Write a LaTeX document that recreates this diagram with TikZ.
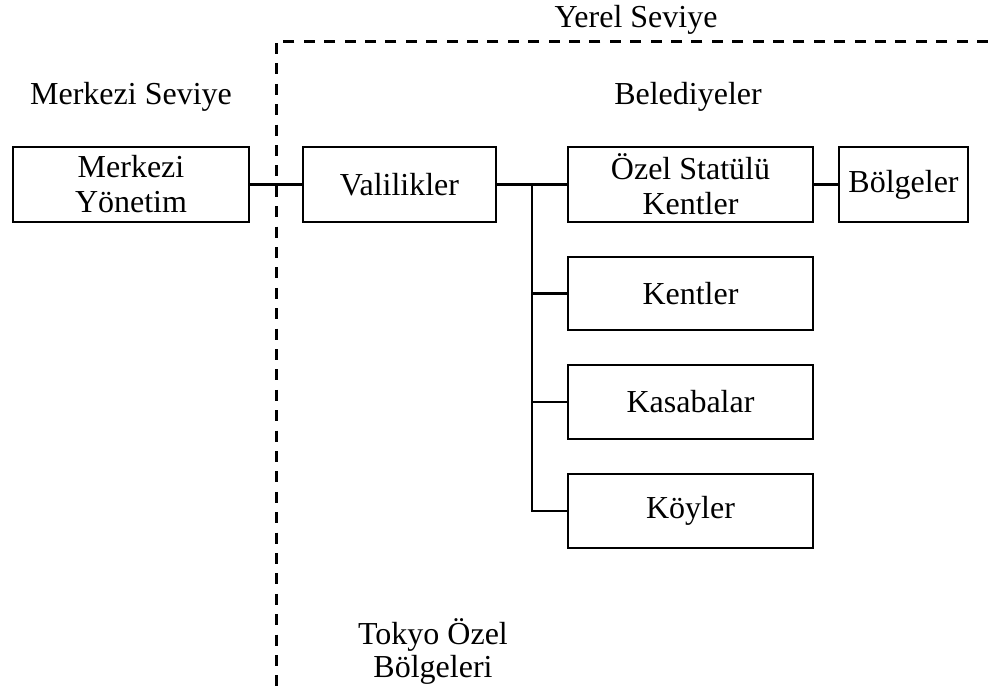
\documentclass[tikz,border=0pt]{standalone}
\usepackage{fontspec}
\setmainfont{Liberation Serif}
\begin{document}
\begin{tikzpicture}[x=1pt,y=-1pt,
  box/.style={draw=black,line width=2.2pt,inner sep=0pt,align=center,minimum height=75pt,font=\fontsize{32}{35}\selectfont},
  lbl/.style={inner sep=0pt,align=center,font=\fontsize{32}{33}\selectfont},
  link/.style={line width=2.2pt},
  border/.style={line width=3pt,dash pattern=on 11pt off 9.4pt}]
\useasboundingbox (0,0) rectangle (988,689);
% boxes
\node[box,minimum width=236pt] (mer) at (131,184.5) {Merkezi\\Yönetim};
\node[box,minimum width=193pt] (val) at (399.5,184.5) {Valilikler};
\node[box,minimum width=245pt] (ozel) at (690.5,184.5) {Özel Statülü\\Kentler};
\node[box,minimum width=129pt] (bol) at (903.5,184.5) {Bölgeler};
\node[box,minimum width=245pt,minimum height=73pt] (ken) at (690.5,293.5) {Kentler};
\node[box,minimum width=245pt,minimum height=74pt] (kas) at (690.5,402) {Kasabalar};
\node[box,minimum width=245pt,minimum height=74pt] (koy) at (690.5,511) {Köyler};
% labels
\node[lbl] (merkseviye) at (131,97) {Merkezi Seviye};
\node[lbl] (yerel) at (636,20) {Yerel Seviye};
\node[lbl] (beled) at (688,97) {Belediyeler};
\node[lbl] (tokyo) at (433,651) {Tokyo Özel\\Bölgeleri};
% dashed border
\coordinate (db) at (276,689);
\coordinate (dc) at (276,41);
\coordinate (dr) at (988,41);
\draw[border] (dr) -- (dc) -- (db);
% connectors
\coordinate (j) at (532,184.5);
\draw[link] (mer.east) -- (val.west);
\draw[link] (val.east) -- (ozel.west);
\draw[link] (ozel.east) -- (bol.west);
\draw[link] (j) -- (j |- koy.west) -- (koy.west);
\draw[link] (j |- ken.west) -- (ken.west);
\draw[link] (j |- kas.west) -- (kas.west);
\end{tikzpicture}
\end{document}
